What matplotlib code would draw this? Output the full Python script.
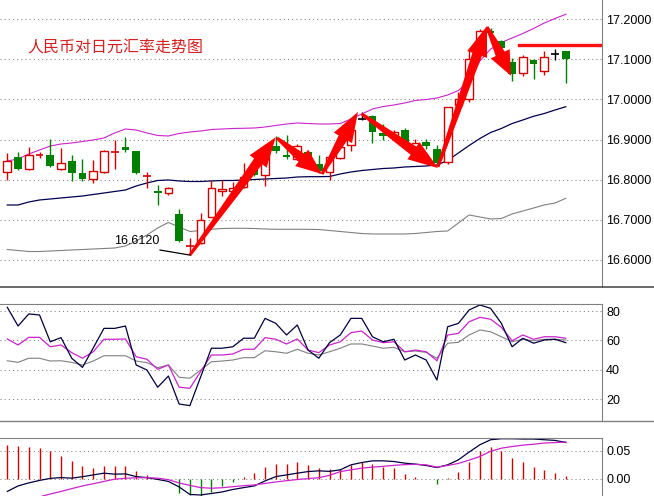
import numpy as np
import matplotlib
matplotlib.use('Agg')
import matplotlib.pyplot as plt
from matplotlib.patches import Polygon
from matplotlib.lines import Line2D
from matplotlib.transforms import IdentityTransform
from matplotlib.ticker import FormatStrFormatter

# daily candles, CNY/JPY
opens = [16.819, 16.857, 16.827, 16.861, 16.862, 16.827, 16.847, 16.817, 16.802, 16.819,
         16.869, 16.882, 16.871, 16.809, 16.772, 16.767, 16.714, 16.634, 16.642, 16.707,
         16.772, 16.772, 16.782, 16.829, 16.812, 16.884, 16.862, 16.852, 16.870, 16.839,
         16.819, 16.855, 16.887, 16.951, 16.959, 16.917, 16.909, 16.924, 16.879, 16.893,
         16.877, 16.844, 16.986, 17.001, 17.114, 17.172, 17.147, 17.094, 17.065, 17.099,
         17.070, 17.113, 17.121]
highs = [16.867, 16.869, 16.882, 16.869, 16.902, 16.879, 16.862, 16.852, 16.849, 16.873,
         16.899, 16.906, 16.872, 16.819, 16.787, 16.781, 16.727, 16.655, 16.717, 16.799,
         16.799, 16.794, 16.842, 16.849, 16.884, 16.909, 16.912, 16.889, 16.872, 16.862,
         16.862, 16.884, 16.934, 16.969, 16.961, 16.939, 16.924, 16.929, 16.902, 16.902,
         16.887, 16.982, 17.019, 17.123, 17.176, 17.178, 17.148, 17.104, 17.111, 17.101,
         17.121, 17.126, 17.121]
lows = [16.799, 16.824, 16.824, 16.854, 16.832, 16.825, 16.797, 16.797, 16.792, 16.817,
        16.827, 16.869, 16.814, 16.779, 16.737, 16.762, 16.645, 16.612, 16.640, 16.706,
        16.759, 16.762, 16.779, 16.809, 16.784, 16.867, 16.852, 16.849, 16.839, 16.817,
        16.799, 16.852, 16.872, 16.950, 16.892, 16.899, 16.904, 16.882, 16.849, 16.877,
        16.839, 16.839, 16.984, 16.994, 17.111, 17.141, 17.123, 17.045, 17.059, 17.050,
        17.061, 17.099, 17.042]
closes = [16.847, 16.827, 16.862, 16.862, 16.834, 16.842, 16.817, 16.802, 16.822, 16.871,
          16.870, 16.874, 16.817, 16.810, 16.766, 16.779, 16.646, 16.635, 16.700, 16.779,
          16.777, 16.779, 16.807, 16.812, 16.879, 16.872, 16.857, 16.885, 16.844, 16.822,
          16.857, 16.882, 16.924, 16.951, 16.919, 16.909, 16.919, 16.887, 16.892, 16.883,
          16.842, 16.981, 17.001, 17.101, 17.172, 17.166, 17.128, 17.064, 17.107, 17.088,
          17.106, 17.113, 17.101]

# bollinger bands
boll_up = [16.8466, 16.8516, 16.8641, 16.8741, 16.8840, 16.8890, 16.8915, 16.8953, 16.8990, 16.9040,
           16.9165, 16.9264, 16.9239, 16.9165, 16.9102, 16.9090, 16.9152, 16.9190, 16.9214, 16.9252,
           16.9264, 16.9277, 16.9282, 16.9289, 16.9314, 16.9352, 16.9389, 16.9414, 16.9401, 16.9389,
           16.9389, 16.9401, 16.9514, 16.9638, 16.9763, 16.9825, 16.9863, 16.9913, 16.9975, 17.0000,
           17.0037, 17.0112, 17.0224, 17.0474, 17.0960, 17.1259, 17.1421, 17.1534, 17.1646, 17.1771,
           17.1908, 17.2020, 17.2125]
boll_mid = [16.7369, 16.7369, 16.7444, 16.7494, 16.7519, 16.7544, 16.7569, 16.7593, 16.7631, 16.7668,
            16.7706, 16.7743, 16.7843, 16.7918, 16.7980, 16.7993, 16.7968, 16.7955, 16.7955, 16.7968,
            16.7980, 16.7980, 16.7993, 16.8005, 16.8017, 16.8030, 16.8042, 16.8067, 16.8075, 16.8075,
            16.8080, 16.8142, 16.8192, 16.8229, 16.8254, 16.8279, 16.8292, 16.8317, 16.8329, 16.8342,
            16.8367, 16.8479, 16.8666, 16.8853, 16.9027, 16.9177, 16.9277, 16.9401, 16.9489, 16.9581,
            16.9651, 16.9738, 16.9820]
boll_low = [16.6259, 16.6234, 16.6209, 16.6209, 16.6222, 16.6234, 16.6247, 16.6259, 16.6272, 16.6284,
            16.6297, 16.6347, 16.6471, 16.6621, 16.6795, 16.6933, 16.6820, 16.6708, 16.6733, 16.6763,
            16.6783, 16.6788, 16.6788, 16.6783, 16.6771, 16.6763, 16.6763, 16.6763, 16.6763, 16.6758,
            16.6733, 16.6708, 16.6683, 16.6658, 16.6646, 16.6646, 16.6646, 16.6646, 16.6658, 16.6683,
            16.6708, 16.6721, 16.6920, 16.7120, 16.7070, 16.7020, 16.7032, 16.7145, 16.7219, 16.7294,
            16.7369, 16.7419, 16.7536]

# oscillator panel (three lines)
osc_fast = [82.5, 69.8, 78.0, 77.3, 59.1, 61.9, 47.9, 41.7, 54.9, 68.2,
            68.2, 69.8, 43.3, 39.9, 28.2, 35.8, 16.8, 15.7, 35.2, 54.7,
            54.7, 55.7, 61.5, 61.5, 75.0, 71.6, 63.7, 70.5, 53.5, 47.9,
            58.5, 63.7, 75.0, 75.0, 62.5, 59.1, 60.8, 46.7, 50.1, 46.7,
            33.1, 69.3, 71.6, 80.7, 84.1, 81.8, 71.6, 55.7, 61.5, 58.1,
            60.3, 60.8, 58.5]
osc_mid = [61.0, 56.9, 62.1, 62.1, 55.7, 56.9, 51.7, 47.9, 52.3, 60.8,
           60.8, 61.0, 48.9, 47.2, 40.4, 43.3, 28.2, 27.5, 38.9, 50.1,
           50.1, 50.8, 54.0, 54.0, 61.9, 60.8, 57.6, 61.0, 53.5, 51.7,
           56.9, 59.1, 65.3, 66.4, 60.3, 58.5, 59.1, 52.3, 53.5, 52.3,
           46.2, 63.7, 64.8, 72.7, 75.7, 74.4, 68.9, 59.8, 63.7, 60.8,
           62.5, 62.5, 61.5]
osc_slow = [46.2, 45.1, 47.9, 47.9, 46.0, 46.2, 45.1, 43.3, 46.0, 49.6,
            49.6, 49.6, 46.0, 44.9, 41.5, 43.3, 35.0, 34.3, 39.9, 45.5,
            46.0, 46.7, 48.3, 48.3, 53.0, 52.3, 51.3, 54.0, 51.3, 50.1,
            52.3, 54.7, 57.6, 57.6, 56.2, 54.7, 55.3, 52.3, 52.8, 51.9,
            47.9, 58.1, 58.7, 63.7, 67.1, 65.9, 62.5, 59.1, 60.8, 59.8,
            60.8, 60.8, 60.3]

# macd
macd_hist = [0.0607, 0.0577, 0.0566, 0.0548, 0.0488, 0.0411, 0.0321, 0.0232, 0.0202, 0.0232,
             0.0232, 0.0232, 0.0143, 0.0071, 0.0005, -0.0010, -0.0255, -0.0290, -0.0310, -0.0227,
             -0.0125, -0.0048, 0.0041, 0.0102, 0.0220, 0.0268, 0.0268, 0.0298, 0.0250, 0.0191,
             0.0180, 0.0173, 0.0250, 0.0309, 0.0263, 0.0220, 0.0191, 0.0095, 0.0041, 0.0005,
             -0.0095, 0.0023, 0.0130, 0.0309, 0.0488, 0.0559, 0.0500, 0.0370, 0.0309, 0.0220,
             0.0161, 0.0113, 0.0059]
macd_dif = [-0.0223, -0.0125, -0.0071, -0.0027, 0.0009, 0.0023, 0.0013, 0.0039, 0.0071, 0.0102,
            0.0084, 0.0089, 0.0041, 0.0023, -0.0009, -0.0045, -0.0143, -0.0277, -0.0286, -0.0259,
            -0.0232, -0.0188, -0.0155, -0.0125, -0.0036, 0.0041, 0.0071, 0.0102, 0.0130, 0.0143,
            0.0134, 0.0161, 0.0250, 0.0291, 0.0321, 0.0321, 0.0309, 0.0280, 0.0263, 0.0238,
            0.0202, 0.0250, 0.0339, 0.0477, 0.0607, 0.0696, 0.0714, 0.0714, 0.0709, 0.0709,
            0.0696, 0.0684, 0.0648]
macd_dea = [-0.0440, -0.0400, -0.0360, -0.0320, -0.0268, -0.0223, -0.0173, -0.0125, -0.0086, -0.0045,
            -0.0005, 0.0011, 0.0020, 0.0021, 0.0013, -0.0014, -0.0071, -0.0116, -0.0155, -0.0166,
            -0.0157, -0.0138, -0.0121, -0.0107, -0.0080, -0.0054, -0.0032, -0.0011, 0.0005, 0.0021,
            0.0063, 0.0130, 0.0161, 0.0191, 0.0209, 0.0223, 0.0241, 0.0254, 0.0259, 0.0250,
            0.0209, 0.0239, 0.0275, 0.0334, 0.0398, 0.0491, 0.0546, 0.0575, 0.0600, 0.0616,
            0.0638, 0.0646, 0.0655]

# trend arrows (candle index, price) and resistance level
arrows = [((17.0, 16.612), (25.0, 16.906)),
          ((25.1, 16.904), (29.3, 16.814)),
          ((29.3, 16.814), (32.65, 16.969)),
          ((33.0, 16.964), (40.1, 16.829)),
          ((40.1, 16.832), (44.66, 17.183)),
          ((44.66, 17.181), (46.9, 17.059))]
resist = 17.136
low_label = '16.6120'
title = '人民币对日元汇率走势图'

W, H = 654, 496
RED = '#d00000'
GREEN = '#008000'
GRID = '#808080'

plt.rcParams['font.family'] = ['Liberation Sans', 'DejaVu Sans']
fig = plt.figure(figsize=(W / 100, H / 100), dpi=100)


def box(top, bottom, right=602):
    return [0, (H - bottom) / H, right / W, (bottom - top) / H]


ax = fig.add_axes(box(0, 287))
ax2 = fig.add_axes(box(304, 421))
ax3 = fig.add_axes(box(438, 496))

xlo, xhi = -0.68, 55.37
for a in (ax, ax2, ax3):
    a.set_xlim(xlo, xhi)
    a.set_xticks([])
    a.yaxis.tick_right()
    a.tick_params(axis='y', length=0, pad=3, labelsize=9, colors='black')
    a.spines['left'].set_visible(False)
    a.spines['bottom'].set_visible(False)
    a.spines['right'].set_color(GRID)
    a.spines['top'].set_color(GRID)
ax.spines['top'].set_visible(False)

# main panel
ax.set_ylim(16.5324, 17.2481)
pticks = [16.6, 16.7, 16.8, 16.9, 17.0, 17.1, 17.2]
ax.set_yticks(pticks)
ax.yaxis.set_major_formatter(FormatStrFormatter('%.4f'))
ax.hlines(pticks, xlo, xhi, colors=GRID, lw=0.75, linestyles=(0, (1, 3)), zorder=0)

idx = np.arange(len(opens))
ax.plot(idx, boll_up, color='#cc22cc', lw=0.8, zorder=1)
ax.plot(idx, boll_mid, color='#000050', lw=0.9, zorder=1)
ax.plot(idx, boll_low, color='#808080', lw=0.8, zorder=1)

bw = 0.72
for i in idx:
    o, h, l, c = opens[i], highs[i], lows[i], closes[i]
    if abs(c - o) < 0.002:
        col = 'black' if c == o else RED
        ax.vlines(i, l, h, colors=col, lw=1, zorder=2)
        ax.hlines(c, i - bw / 2, i + bw / 2, colors=col, lw=1.2, zorder=3)
    elif c > o:
        ax.vlines(i, l, h, colors=RED, lw=1, zorder=2)
        ax.bar(i, c - o, bottom=o, width=bw, facecolor='white', edgecolor=RED, lw=1, zorder=3)
    else:
        ax.vlines(i, l, h, colors=GREEN, lw=1, zorder=2)
        ax.bar(i, o - c, bottom=c, width=bw, color=GREEN, lw=0, zorder=3)


def draw_arrow(a, p0, p1):
    x0, y0 = a.transData.transform(p0)
    x1, y1 = a.transData.transform(p1)
    dx, dy = x1 - x0, y1 - y0
    L = np.hypot(dx, dy)
    ux, uy = dx / L, dy / L
    nx, ny = -uy, ux
    hl = min(30, 0.45 * L)
    bx, by = x1 - ux * hl, y1 - uy * hl
    tw, sw, hw = 1.5, 5.0, 10.5
    pts = [(x0 + nx * tw, y0 + ny * tw), (bx + nx * sw, by + ny * sw),
           (bx + nx * hw, by + ny * hw), (x1, y1),
           (bx - nx * hw, by - ny * hw), (bx - nx * sw, by - ny * sw),
           (x0 - nx * tw, y0 - ny * tw)]
    a.add_patch(Polygon(pts, closed=True, transform=IdentityTransform(),
                        facecolor='#ff0000', edgecolor='none', zorder=5, clip_on=False))


for p0, p1 in arrows:
    draw_arrow(ax, p0, p1)

ax.axhline(resist, xmin=519.3 / 602, xmax=1, color='#ff1010', lw=2.4, zorder=5)

ax.text(9.93, 16.6459, low_label, fontsize=9, ha='left', va='center', color='black', zorder=6)
ax.plot([14.22, 17.0], [16.6246, 16.612], color='black', lw=0.9, zorder=6)

fig.text(27 / W, 1 - 48 / H, title, fontsize=11.5, color='#d42020', ha='left', va='center',
         family=['Noto Sans CJK SC', 'DejaVu Sans'])

# oscillator
ax2.set_ylim(5.26, 84.76)
kticks = [20, 40, 60, 80]
ax2.set_yticks(kticks)
ax2.yaxis.set_major_formatter(FormatStrFormatter('%d'))
ax2.hlines(kticks, xlo, xhi, colors=GRID, lw=0.75, linestyles=(0, (1, 3)), zorder=0)
ax2.plot(idx, osc_slow, color='#808080', lw=0.8)
ax2.plot(idx, osc_mid, color='#cc22cc', lw=0.9)
ax2.plot(idx, osc_fast, color='#000040', lw=0.9)

# macd
ax3.set_ylim(-0.0304, 0.0727)
mticks = [0.0, 0.05]
ax3.set_yticks(mticks)
ax3.yaxis.set_major_formatter(FormatStrFormatter('%.2f'))
ax3.hlines(mticks, xlo, xhi, colors=GRID, lw=0.75, linestyles=(0, (1, 3)), zorder=0)
hist = np.array(macd_hist)
ax3.vlines(idx, 0, hist, colors=[RED if v >= 0 else GREEN for v in hist], lw=1, zorder=1)
ax3.plot(idx, macd_dif, color='#000040', lw=0.9, zorder=2)
ax3.plot(idx, macd_dea, color='#cc22cc', lw=0.9, zorder=2)

# full-width panel separators
for y, col, lw in ((287, '#505050', 1.2), (421, GRID, 1.0)):
    fig.add_artist(Line2D([0, 1], [1 - y / H, 1 - y / H], transform=fig.transFigure, color=col, lw=lw))

fig.savefig('out.png', dpi=100, facecolor='white')
